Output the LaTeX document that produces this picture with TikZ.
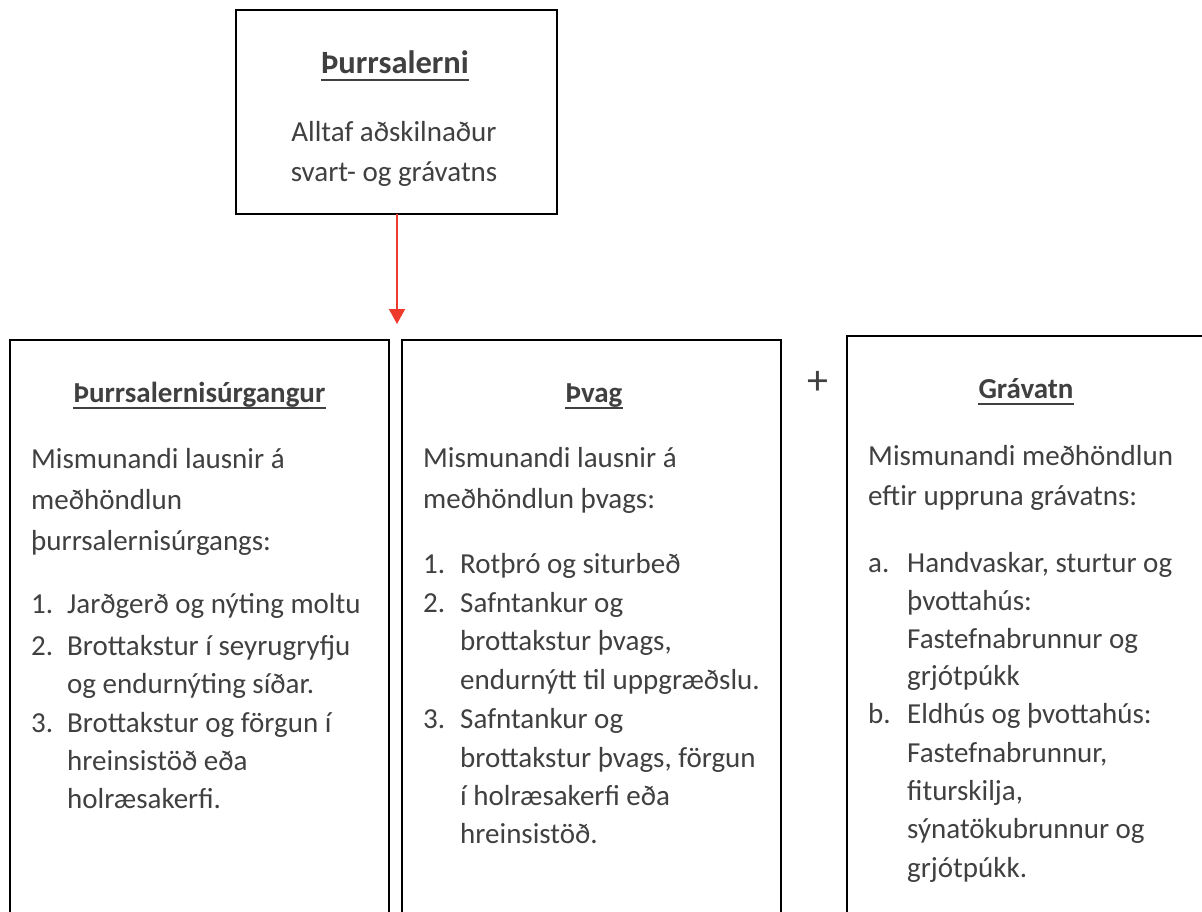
\documentclass[tikz,border=0pt]{standalone}
\usepackage{fontspec}
\setmainfont{Carlito}
\usetikzlibrary{arrows.meta}
\definecolor{txt}{HTML}{404040}
\definecolor{arrowred}{HTML}{EE3A2A}
\tikzset{
  boxnode/.style={draw=black, line width=2pt, inner sep=0pt, outer sep=0pt},
  tx/.style={anchor=base west, inner sep=0pt, font=\fontsize{29}{35}\selectfont, text=txt},
  tc/.style={anchor=base, inner sep=0pt, font=\fontsize{29}{35}\selectfont, text=txt},
  ttl/.style={anchor=base, inner sep=0pt, font=\fontsize{29}{35}\selectfont\bfseries, text=txt},
  uline/.style={draw=txt, line width=2pt},
  redarrow/.style={draw=arrowred, line width=1.5pt, -{Triangle[length=15pt,width=16pt]}}
}
\begin{document}
\begin{tikzpicture}[x=1pt,y=-1pt]
\useasboundingbox (0,0) rectangle (1202,912);
\clip (0,0) rectangle (1202,912);
\fill[white] (0,0) rectangle (1202,912);

% boxes
\node[boxnode, minimum width=321pt, minimum height=204pt] (top) at (396,112) {};
\node[boxnode, minimum width=379pt, minimum height=600pt] (left) at (199.5,640) {};
\node[boxnode, minimum width=379pt, minimum height=600pt] (mid) at (591.5,640) {};
\node[boxnode, minimum width=393pt, minimum height=604pt] (right) at (1043.5,638) {};

% arrow
\coordinate (arrowend) at (397,324);
\draw[redarrow] (top.south -| arrowend) -- (arrowend);

% plus
\node[inner sep=0pt, font=\fontsize{42}{48}\selectfont, text=txt] (plus) at (818,383) {+};

% top box text
\node[ttl, font=\fontsize{32.5}{38}\selectfont\bfseries] (t0) at (395,74) {Þurrsalerni};
\draw[uline] ([yshift=-6pt]t0.base west) -- ([yshift=-6pt]t0.base east);
\node[tc] (t1) at (394,142) {Alltaf aðskilnaður};
\node[tc] (t2) at (394,182) {svart- og grávatns};

% left box
\node[ttl] (a0) at (199.5,402) {Þurrsalernisúrgangur};
\draw[uline] ([yshift=-5.5pt]a0.base west) -- ([yshift=-5.5pt]a0.base east);
\node[tx] (a1) at (31,468) {Mismunandi lausnir á};
\node[tx] (a2) at (31,509) {meðhöndlun};
\node[tx] (a3) at (31,550) {þurrsalernisúrgangs:};
\node[tx] (a4n) at (31,613) {1.};
\node[tx] (a4) at (67,613) {Jarðgerð og nýting moltu};
\node[tx] (a5n) at (31,655) {2.};
\node[tx] (a5) at (67,655) {Brottakstur í seyrugryfju};
\node[tx] (a6) at (67,693) {og endurnýting síðar.};
\node[tx] (a7n) at (31,732) {3.};
\node[tx] (a7) at (67,732) {Brottakstur og förgun í};
\node[tx] (a8) at (67,770) {hreinsistöð eða};
\node[tx] (a9) at (67,808) {holræsakerfi.};

% middle box
\node[ttl] (b0) at (594,402) {Þvag};
\draw[uline] ([yshift=-5.5pt]b0.base west) -- ([yshift=-5.5pt]b0.base east);
\node[tx] (b1) at (423,467) {Mismunandi lausnir á};
\node[tx] (b2) at (423,508) {meðhöndlun þvags:};
\node[tx] (b3n) at (423,573) {1.};
\node[tx] (b3) at (460,573) {Rotþró og siturbeð};
\node[tx] (b4n) at (423,612) {2.};
\node[tx] (b4) at (460,612) {Safntankur og};
\node[tx] (b5) at (460,650) {brottakstur þvags,};
\node[tx] (b6) at (460,689) {endurnýtt til uppgræðslu.};
\node[tx] (b7n) at (423,728) {3.};
\node[tx] (b7) at (460,728) {Safntankur og};
\node[tx] (b8) at (460,767) {brottakstur þvags, förgun};
\node[tx] (b9) at (460,805) {í holræsakerfi eða};
\node[tx] (b10) at (460,843) {hreinsistöð.};

% right box
\node[ttl] (c0) at (1026,398) {Grávatn};
\draw[uline] ([yshift=-5.5pt]c0.base west) -- ([yshift=-5.5pt]c0.base east);
\node[tx] (c1) at (868,465) {Mismunandi meðhöndlun};
\node[tx] (c2) at (868,505) {eftir uppruna grávatns:};
\node[tx] (c3n) at (868,572) {a.};
\node[tx] (c3) at (907,572) {Handvaskar, sturtur og};
\node[tx] (c4) at (907,610) {þvottahús:};
\node[tx] (c5) at (907,648) {Fastefnabrunnur og};
\node[tx] (c6) at (907,685) {grjótpúkk};
\node[tx] (c7n) at (868,723) {b.};
\node[tx] (c7) at (907,723) {Eldhús og þvottahús:};
\node[tx] (c8) at (907,762) {Fastefnabrunnur,};
\node[tx] (c9) at (907,800) {fiturskilja,};
\node[tx] (c10) at (907,838) {sýnatökubrunnur og};
\node[tx] (c11) at (907,877) {grjótpúkk.};
\end{tikzpicture}
\end{document}
